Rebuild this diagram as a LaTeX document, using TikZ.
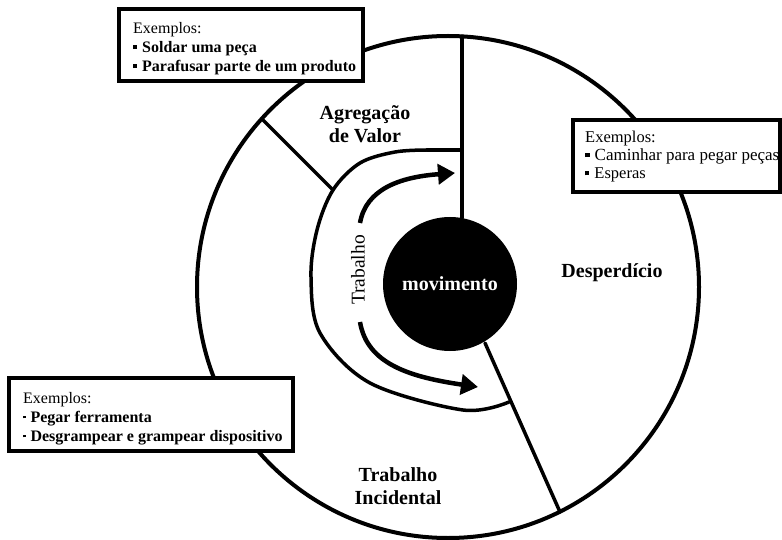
\documentclass[tikz,border=0pt]{standalone}
\usepackage{fontspec}
\setmainfont{Liberation Serif}
\usetikzlibrary{arrows.meta}
\newcommand{\sqbul}{\rule[0.2em]{0.26em}{0.26em}\hspace{0.3em}}
\newcommand{\dotbul}{\rule[0.25em]{0.16em}{0.16em}\hspace{0.3em}}
\tikzset{
  ring/.style={line width=4pt},
  divider/.style={line width=3.5pt, line cap=round},
  flow/.style={line width=4.5pt, -{Triangle[length=17pt,width=20pt]}},
  exbox/.style={draw, line width=4pt, fill=white, inner sep=0pt, outer sep=0pt},
  extext/.style={anchor=north west, inner sep=0pt, align=left, font=\fontsize{16}{19}\selectfont},
  seglabel/.style={font=\fontsize{20}{23}\selectfont\bfseries, align=center, inner sep=0pt},
}
\begin{document}
\begin{tikzpicture}[x=1pt,y=1pt]
\useasboundingbox (0,0) rectangle (782,539);
% outer ring
\node[circle, draw, ring, minimum size=502pt, inner sep=0pt] (outer) at (448,252) {};
% named points
\coordinate (vtop) at (462,502.6);
\coordinate (vbot) at (462,321);
\coordinate (hjoin) at (462,389);
\coordinate (arcA) at (427,389);
\coordinate (lout) at (263,419);
\coordinate (lin) at (333,349);
\coordinate (dtop) at (485,196);
\coordinate (dbot) at (560,27);
% dividers
\draw[divider] (vtop) -- (vbot);
\draw[divider] (hjoin) -- (arcA);
\draw[divider] (lout) -- (lin);
\draw[divider] (dtop) -- (dbot);
\draw[divider] plot[smooth, tension=0.55] coordinates {(427,389) (395,387) (360,376) (333,349) (317,309) (311,262) (320,206) (370,156) (463,129) (509,137)};
% core
\node[circle, fill=black, minimum size=134pt, inner sep=0pt, text=white,
      font=\fontsize{20}{23}\selectfont\bfseries] (core) at (450,255) {movimento};
% arrows
\coordinate (u0) at (360,316);
\coordinate (u1) at (455,366);
\coordinate (w0) at (360,217);
\coordinate (w1) at (478,152);
\draw[flow] (u0) .. controls (366,350) and (400,362) .. (u1);
\draw[flow] (w0) .. controls (367,175) and (410,162) .. (w1);
\node[rotate=90, font=\fontsize{19.5}{22}\selectfont, inner sep=0pt] (trab) at (358,269) {Trabalho};
% segment labels
\node[seglabel] (agv) at (365,415) {Agregação\\de Valor};
\node[seglabel] (desp) at (612,266) {Desperdício};
\node[seglabel] (ti) at (398,53) {Trabalho\\Incidental};
% example boxes
\node[exbox, minimum width=244pt, minimum height=72pt, anchor=north west] (box1) at (119,530) {};
\node[extext] (t1) at ([xshift=14pt, yshift=-13pt]box1.north west)
  {Exemplos:\\ \textbf{\sqbul Soldar uma peça}\\ \textbf{\sqbul Parafusar parte de um produto}};
\node[exbox, minimum width=207pt, minimum height=72pt, anchor=north west] (box2) at (573,419) {};
\node[extext, font=\fontsize{16.5}{18}\selectfont] (t2) at ([xshift=12pt, yshift=-11pt]box2.north west)
  {Exemplos:\\ {\fontsize{17}{18}\selectfont\sqbul Caminhar para pegar peças}\\ \sqbul Esperas};
\node[exbox, minimum width=284pt, minimum height=73pt, anchor=north west] (box3) at (9,161) {};
\node[extext, font=\fontsize{16}{19}\selectfont] (t3) at ([xshift=14pt, yshift=-14pt]box3.north west)
  {Exemplos:\\ \textbf{\dotbul Pegar ferramenta}\\ \textbf{\dotbul Desgrampear e grampear dispositivo}};
\end{tikzpicture}
\end{document}
